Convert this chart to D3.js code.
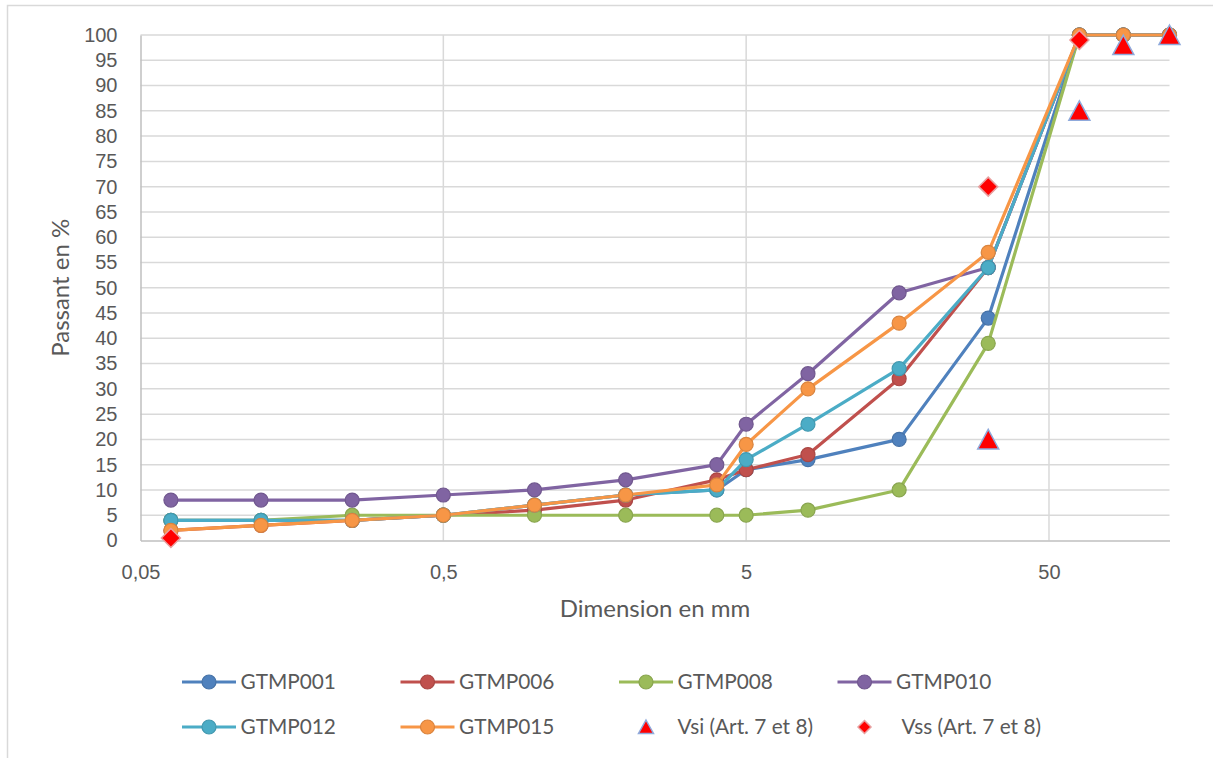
<!DOCTYPE html>
<html>
<head>
<meta charset="utf-8">
<script src="https://cdn.jsdelivr.net/npm/d3@7"></script>
<style>
  html, body { margin: 0; padding: 0; background: #fff; }
  svg { display: block; font-family: Lato, 'Open Sans', sans-serif; }
  .tick text { fill: #595959; font-size: 20px; }
</style>
</head>
<body>
<svg id="chart" width="1213" height="758"></svg>
<script>
// sieve sizes in mm
const sieves = [0.063, 0.125, 0.25, 0.5, 1, 2, 4, 5, 8, 16, 31.5, 63, 88, 125]

const gtmp001 = [4, 4, 4, 5, 7, 9, 10, 14, 16, 20, 44, 100, 100, 100]
const gtmp006 = [2, 3, 4, 5, 6, 8, 12, 14, 17, 32, 54, 100, 100, 100]
const gtmp008 = [4, 4, 5, 5, 5, 5, 5, 5, 6, 10, 39, 100, 100, 100]
const gtmp010 = [8, 8, 8, 9, 10, 12, 15, 23, 33, 49, 54, 100, 100, 100]
const gtmp012 = [4, 4, 4, 5, 7, 9, 10, 16, 23, 34, 54, 100, 100, 100]
const gtmp015 = [2, 3, 4, 5, 7, 9, 11, 19, 30, 43, 57, 100, 100, 100]

// limit points
const vsiX = [31.5, 63, 88, 125]
const vsiY = [20, 85, 98, 100]
const vssX = [0.063, 31.5, 63]
const vssY = [0.5, 70, 99]

const xTicks = [0.05, 0.5, 5, 50]
const yTicks = d3.range(0, 101, 5)

const series = [
  { name: 'GTMP001', values: gtmp001, color: '#4f81bd' },
  { name: 'GTMP006', values: gtmp006, color: '#c0504d' },
  { name: 'GTMP008', values: gtmp008, color: '#9bbb59' },
  { name: 'GTMP010', values: gtmp010, color: '#8064a2' },
  { name: 'GTMP012', values: gtmp012, color: '#4bacc6' },
  { name: 'GTMP015', values: gtmp015, color: '#f79646' }
]

const svg = d3.select('#chart')

// outer chart frame
svg.append('rect')
  .attr('x', 7.5).attr('y', 5.5)
  .attr('width', 1300).attr('height', 900)
  .attr('fill', 'none').attr('stroke', '#d9d9d9').attr('stroke-width', 1.5)

const x = d3.scaleLog().domain([0.05, 125]).range([140.5, 1169.5])
const y = d3.scaleLinear().domain([0, 100]).range([540.5, 35])

// gridlines
svg.append('g')
  .selectAll('line').data(yTicks.filter(d => d > 0))
  .enter().append('line')
  .attr('x1', x.range()[0]).attr('x2', x.range()[1])
  .attr('y1', d => y(d)).attr('y2', d => y(d))
  .attr('stroke', '#d9d9d9').attr('stroke-width', 1.5)

svg.append('g')
  .selectAll('line').data(xTicks.slice(1))
  .enter().append('line')
  .attr('x1', d => x(d)).attr('x2', d => x(d))
  .attr('y1', y(0)).attr('y2', y(100))
  .attr('stroke', '#d9d9d9').attr('stroke-width', 1.5)

// axes
const fmt = d => String(d).replace('.', ',')

svg.append('g')
  .attr('transform', `translate(0,${y(0)})`)
  .call(d3.axisBottom(x).tickValues(xTicks).tickFormat(fmt).tickSize(0).tickPadding(24))
  .call(g => g.select('.domain').attr('stroke', '#bfbfbf').attr('stroke-width', 1.5))

svg.append('g')
  .attr('transform', `translate(${x.range()[0]},0)`)
  .call(d3.axisLeft(y).tickValues(yTicks).tickSize(0).tickPadding(23))
  .call(g => g.select('.domain').attr('stroke', '#bfbfbf').attr('stroke-width', 1.5))

// axis titles
svg.append('text')
  .attr('x', (x.range()[0] + x.range()[1]) / 2).attr('y', 617)
  .attr('text-anchor', 'middle')
  .attr('fill', '#595959').attr('font-size', 24)
  .text('Dimension en mm')

svg.append('text')
  .attr('transform', `translate(69,${(y(0) + y(100)) / 2}) rotate(-90)`)
  .attr('text-anchor', 'middle')
  .attr('fill', '#595959').attr('font-size', 24)
  .text('Passant en %')

// series
const line = d3.line()
  .x(d => x(d[0]))
  .y(d => y(d[1]))

series.forEach(s => {
  const pts = sieves.map((v, i) => [v, s.values[i]])
  const g = svg.append('g')
  g.append('path')
    .datum(pts)
    .attr('d', line)
    .attr('fill', 'none')
    .attr('stroke', s.color)
    .attr('stroke-width', 3.2)
    .attr('stroke-linejoin', 'round')
  g.selectAll('circle').data(pts)
    .enter().append('circle')
    .attr('cx', d => x(d[0]))
    .attr('cy', d => y(d[1]))
    .attr('r', 7)
    .attr('fill', s.color)
    .attr('stroke', d3.color(s.color).darker(0.35))
    .attr('stroke-width', 1.2)
})

const diamond = size => `M0,${-size}L${size},0L0,${size}L${-size},0Z`

svg.append('g')
  .selectAll('path').data(vsiX.map((v, i) => [v, vsiY[i]]))
  .enter().append('path')
  .attr('d', 'M0,-10L10.5,9.5L-10.5,9.5Z')
  .attr('transform', d => `translate(${x(d[0])},${y(d[1])})`)
  .attr('fill', '#ff0000')
  .attr('stroke', '#8faadc')
  .attr('stroke-width', 1.5)

svg.append('g')
  .selectAll('path').data(vssX.map((v, i) => [v, vssY[i]]))
  .enter().append('path')
  .attr('d', diamond(9.5))
  .attr('transform', d => `translate(${x(d[0])},${y(d[1])})`)
  .attr('fill', '#ff0000')
  .attr('stroke', '#e8a0a0')
  .attr('stroke-width', 1.5)

// legend
const colX = [182, 400.5, 619, 837.5]
const rowY = [682, 727]
const legend = svg.append('g')

series.forEach((s, i) => {
  const cx = colX[i % 4]
  const cy = rowY[Math.floor(i / 4)]
  legend.append('line')
    .attr('x1', cx).attr('x2', cx + 54)
    .attr('y1', cy).attr('y2', cy)
    .attr('stroke', s.color).attr('stroke-width', 3.2)
  legend.append('circle')
    .attr('cx', cx + 27).attr('cy', cy).attr('r', 7)
    .attr('fill', s.color)
    .attr('stroke', d3.color(s.color).darker(0.35)).attr('stroke-width', 1.2)
  legend.append('text')
    .attr('x', cx + 58.5).attr('y', cy).attr('dy', '0.35em')
    .attr('fill', '#595959').attr('font-size', 20.8)
    .text(s.name)
})

legend.append('path')
  .attr('d', 'M0,-7L7.5,6.5L-7.5,6.5Z')
  .attr('transform', `translate(${colX[2] + 27},${rowY[1]})`)
  .attr('fill', '#ff0000').attr('stroke', '#8faadc').attr('stroke-width', 1.5)
legend.append('text')
  .attr('x', colX[2] + 58.5).attr('y', rowY[1]).attr('dy', '0.35em')
  .attr('fill', '#595959').attr('font-size', 20.8)
  .text('Vsi (Art. 7 et 8)')

legend.append('path')
  .attr('d', diamond(6.5))
  .attr('transform', `translate(${colX[3] + 27},${rowY[1]})`)
  .attr('fill', '#ff0000').attr('stroke', '#e8a0a0').attr('stroke-width', 1.5)
legend.append('text')
  .attr('x', colX[3] + 64).attr('y', rowY[1]).attr('dy', '0.35em')
  .attr('fill', '#595959').attr('font-size', 20.8)
  .text('Vss (Art. 7 et 8)')
</script>
</body>
</html>
